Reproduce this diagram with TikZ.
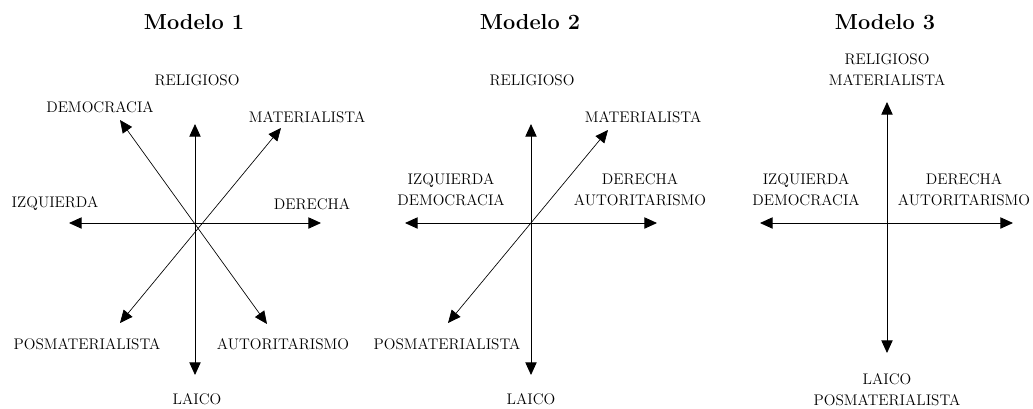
\documentclass[tikz,border=0pt]{standalone}
\usetikzlibrary{arrows.meta}
\begin{document}
\begin{tikzpicture}[x=0.75pt,y=-0.75pt,
  lbl/.style={font=\fontsize{11.5}{15.5}\selectfont, align=center, inner sep=0pt},
  ttl/.style={font=\fontsize{16.3}{18}\selectfont\bfseries, inner sep=0pt},
  axis/.style={line width=0.65pt, {Triangle[length=9.5pt,width=8.5pt]}-{Triangle[length=9.5pt,width=8.5pt]}},
  diag/.style={line width=0.5pt, {Triangle[length=9.5pt,width=8.5pt]}-{Triangle[length=9.5pt,width=8.5pt]}}]
\useasboundingbox (0,0) rectangle (1033,408);
% ---------- Modelo 1
\node[ttl] (t1) at (194,22) {Modelo 1};
\coordinate (a1l) at (69,223);  \coordinate (a1r) at (321,223);
\coordinate (a1t) at (195,124); \coordinate (a1b) at (195,375);
\coordinate (a1dl) at (120,120); \coordinate (a1ar) at (267,324);
\coordinate (a1mr) at (281,128); \coordinate (a1pl) at (120,323);
\draw[axis] (a1l) -- (a1r);
\draw[axis] (a1t) -- (a1b);
\draw[diag] (a1dl) -- (a1ar);
\draw[diag] (a1pl) -- (a1mr);
\node[lbl] (r1) at (197,80) {RELIGIOSO};
\node[lbl] (d1) at (100,107) {DEMOCRACIA};
\node[lbl] (m1) at (307,117) {MATERIALISTA};
\node[lbl] (i1) at (55,204) {IZQUIERDA};
\node[lbl] (de1) at (312,204) {DERECHA};
\node[lbl] (p1) at (87,344) {POSMATERIALISTA};
\node[lbl] (au1) at (283,344) {AUTORITARISMO};
\node[lbl] (l1) at (197,399) {LAICO};
% ---------- Modelo 2
\node[ttl] (t2) at (530,22) {Modelo 2};
\coordinate (a2l) at (405,223);  \coordinate (a2r) at (657,223);
\coordinate (a2t) at (531,124); \coordinate (a2b) at (531,375);
\coordinate (a2mr) at (608,130); \coordinate (a2pl) at (448,323);
\draw[axis] (a2l) -- (a2r);
\draw[axis] (a2t) -- (a2b);
\draw[diag] (a2pl) -- (a2mr);
\node[lbl] (r2) at (532,80) {RELIGIOSO};
\node[lbl] (m2) at (643,117) {MATERIALISTA};
\node[lbl] (i2) at (451,189.5) {IZQUIERDA\\DEMOCRACIA};
\node[lbl] (de2) at (640,189.5) {DERECHA\\AUTORITARISMO};
\node[lbl] (p2) at (447,344) {POSMATERIALISTA};
\node[lbl] (l2) at (531,399) {LAICO};
% ---------- Modelo 3
\node[ttl] (t3) at (885,22) {Modelo 3};
\coordinate (a3l) at (760,223);  \coordinate (a3r) at (1013,223);
\coordinate (a3t) at (887,102); \coordinate (a3b) at (887,353);
\draw[axis] (a3l) -- (a3r);
\draw[axis] (a3t) -- (a3b);
\node[lbl] (r3) at (887,69.5) {RELIGIOSO\\MATERIALISTA};
\node[lbl] (i3) at (806,189.5) {IZQUIERDA\\DEMOCRACIA};
\node[lbl] (de3) at (964,189.5) {DERECHA\\AUTORITARISMO};
\node[lbl] (l3) at (887,389.5) {LAICO\\POSMATERIALISTA};
\end{tikzpicture}
\end{document}
